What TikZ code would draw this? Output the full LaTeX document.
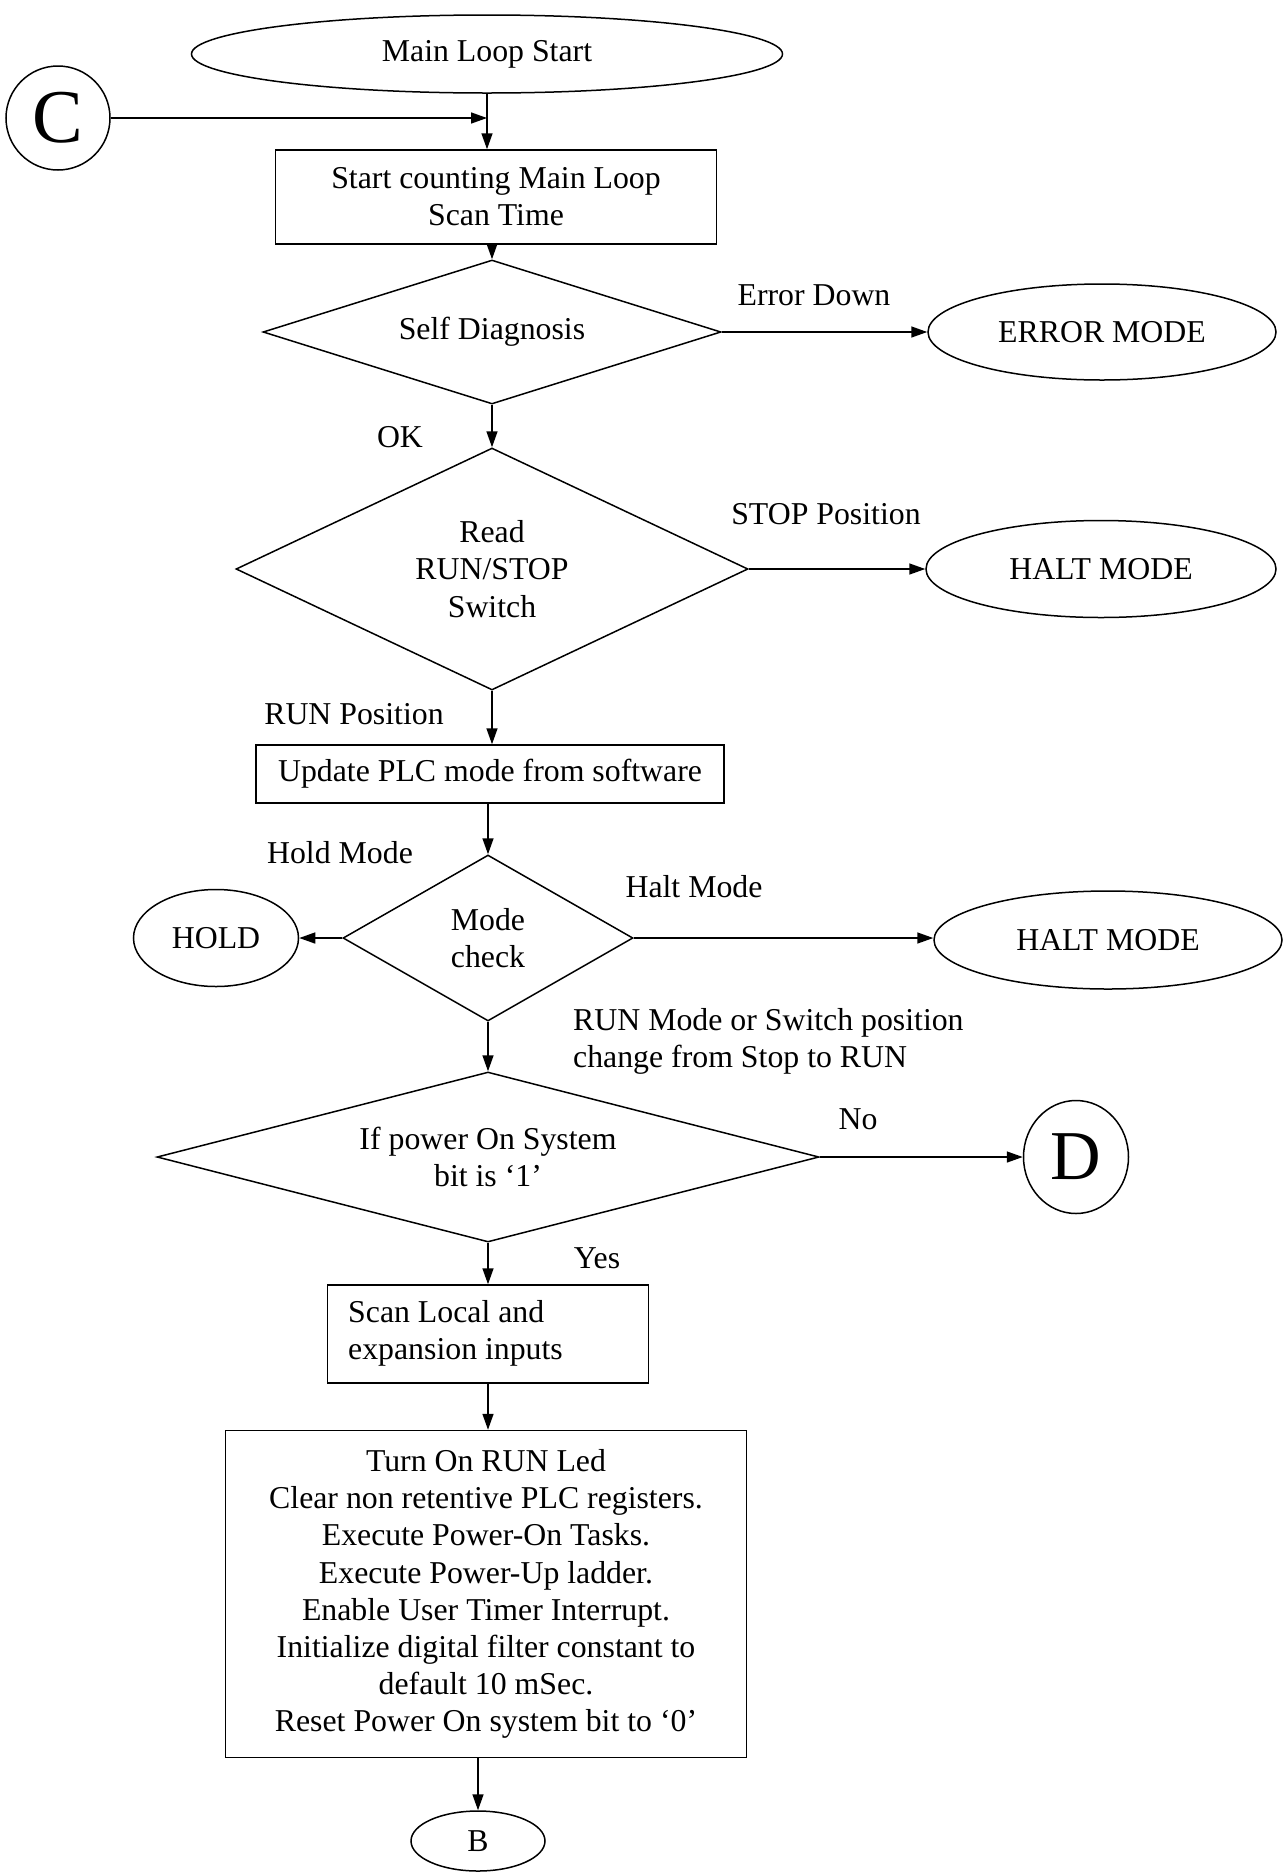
\documentclass[tikz,border=0pt]{standalone}
\usepackage{fontspec}
\setmainfont{Liberation Serif}
\usetikzlibrary{shapes.geometric,arrows.meta}

\begin{document}
\begin{tikzpicture}[x=1pt,y=1pt,yscale=-1,xscale=1,
  every node/.style={font=\fontsize{31.8}{37.2}\selectfont},
  arr/.style={line width=1.5pt,-{Triangle[length=16pt,width=11pt]}},
  procbox/.style={draw,line width=1.5pt,rectangle,inner sep=0pt,align=center},
  term/.style={draw,line width=1.5pt,ellipse,inner sep=0pt},
  decide/.style={draw,line width=1.5pt,diamond,inner sep=0pt,align=center},
  lbl/.style={inner sep=0pt,align=left}]
\useasboundingbox (0,0) rectangle (1284,1872);

% top of the loop
\node[term,minimum width=591,minimum height=78] (mls) at (487,54) {Main Loop Start};
\node[draw,line width=1.5pt,circle,inner sep=0pt,minimum size=104,font=\fontsize{76}{76}\selectfont] (conC) at (58,118) {C};
\node[procbox,minimum width=441,minimum height=94] (count) at (496,197) {Start counting Main Loop\\Scan Time};

% checks
\node[decide,shape aspect=3.2,minimum width=458,minimum height=144] (diag) at (492,332) {Self Diagnosis};
\node[term,minimum width=348,minimum height=96] (errmode) at (1102,332) {ERROR MODE};
\node[decide,shape aspect=2.1,minimum width=512,minimum height=242] (runstop) at (492,569) {Read\\RUN/STOP\\Switch};
\node[term,minimum width=350,minimum height=97] (haltA) at (1101,569) {HALT MODE};
\node[procbox,minimum width=468,minimum height=58] (update) at (490,774) {Update PLC mode from software};
\node[decide,shape aspect=1.75,minimum width=290,minimum height=166] (modechk) at (488,938) {Mode\\check};
\node[term,minimum width=165,minimum height=97] (hold) at (216,938) {HOLD};
\node[term,minimum width=348,minimum height=98] (haltB) at (1108,940) {HALT MODE};
\node[decide,shape aspect=3.9,minimum width=662,minimum height=170] (pwron) at (488,1157) {If power On System\\bit is ‘1’};
\node[term,minimum width=105,minimum height=113,font=\fontsize{70}{70}\selectfont] (conD) at (1076,1157) {D};

% run path
\node[procbox,minimum width=321,minimum height=98] (scan) at (488,1334) {};
\node[lbl,anchor=west] (scantxt) at (348,1333) {Scan Local and\\expansion inputs};
\node[procbox,minimum width=521,minimum height=327] (init) at (486,1594) {Turn On RUN Led\\Clear non retentive PLC registers.\\Execute Power-On Tasks.\\Execute Power-Up ladder.\\Enable User Timer Interrupt.\\Initialize digital filter constant to\\default 10 mSec.\\Reset Power On system bit to ‘0’};
\node[term,minimum width=134,minimum height=60] (conB) at (478,1841) {B};

% branch labels
\node[lbl] (lerr) at (814,295) {Error Down};
\node[lbl] (lok) at (400,437) {OK};
\node[lbl] (lstop) at (826,514) {STOP Position};
\node[lbl] (lrun) at (354,714) {RUN Position};
\node[lbl] (lhold) at (340,853) {Hold Mode};
\node[lbl] (lhalt) at (694,887) {Halt Mode};
\node[lbl,anchor=west] (lrunmode) at (573,1041) {RUN Mode or Switch position\\change from Stop to RUN};
\node[lbl] (lno) at (858,1119) {No};
\node[lbl] (lyes) at (597,1258) {Yes};

% connectors
\draw[arr] (conC.east) -- (mls.south |- conC.east);
\draw[arr] (mls.south) -- (mls.south |- count.north);
\draw[arr] (diag.north |- count.south) -- (diag.north);
\draw[arr] (diag.east) -- (errmode.west);
\draw[arr] (diag.south) -- (runstop.north);
\draw[arr] (runstop.east) -- (haltA.west);
\draw[arr] (runstop.south) -- (runstop.south |- update.north);
\draw[arr] (modechk.north |- update.south) -- (modechk.north);
\draw[arr] (modechk.west) -- (hold.east);
\draw[arr] (modechk.east) -- (modechk.east -| haltB.west);
\draw[arr] (modechk.south) -- (pwron.north);
\draw[arr] (pwron.east) -- (conD.west);
\draw[arr] (pwron.south) -- (scan.north);
\draw[arr] (scan.south) -- (scan.south |- init.north);
\draw[arr] (conB.north |- init.south) -- (conB.north);
\end{tikzpicture}
\end{document}
